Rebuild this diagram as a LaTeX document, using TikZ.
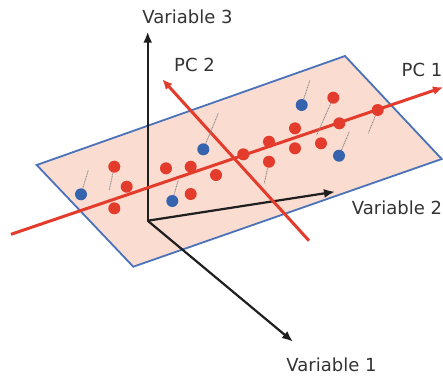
\documentclass[tikz,border=0pt]{standalone}
\usepackage{fontspec}
\setmainfont{DejaVu Sans}
\usetikzlibrary{arrows.meta}
\definecolor{planefill}{HTML}{FADCD1}
\definecolor{planeedge}{HTML}{4A72B8}
\definecolor{pcred}{HTML}{E33B2C}
\definecolor{dotblue}{HTML}{3563AE}
\definecolor{txtgrey}{HTML}{333333}
\tikzset{
  axis/.style={line width=2.2pt, black!88, -{Latex[length=11pt,width=9pt]}},
  pcline/.style={line width=3pt, pcred, -{Latex[length=10pt,width=9pt]}},
  reddot/.style={circle, fill=pcred, inner sep=0pt, minimum size=12pt},
  bluedot/.style={circle, fill=dotblue, inner sep=0pt, minimum size=12pt},
  proj/.style={line width=0.9pt, black!45, dash pattern=on 1pt off 0.7pt},
  lbl/.style={text=txtgrey, font=\fontsize{18}{21}\selectfont, inner sep=0pt}
}
\begin{document}
\begin{tikzpicture}[x=1pt,y=-1pt]
\useasboundingbox (0,0) rectangle (443,376);
% plane
\draw[planeedge, line width=1.8pt, fill=planefill, line join=miter]
  (36.7,165) -- (345,56) -- (441.7,159) -- (133.3,266.7) -- cycle;
% axes
\coordinate (O) at (147.7,220.7);
\coordinate (V3) at (147.7,31.7);
\coordinate (V2) at (335,191.7);
\coordinate (V1) at (293,341.7);
\draw[axis] (O) -- (V3);
\draw[axis] (O) -- (V2);
\draw[axis] (O) -- (V1);
% principal components
\coordinate (P1a) at (11,234.3);
\coordinate (P1b) at (443,87.3);
\coordinate (P2a) at (309,240.7);
\coordinate (P2b) at (162.3,79.3);
\draw[pcline] (P1a) -- (P1b);
\draw[pcline] (P2a) -- (P2b);
% projection end points
\coordinate (e1) at (88.3,170);
\coordinate (e2) at (109.3,190);
\coordinate (e3) at (178.3,180);
\coordinate (e4) at (218.3,113.3);
\coordinate (e5) at (264.3,183.3);
\coordinate (e6) at (310,80);
\coordinate (e7) at (316.7,135);
\coordinate (e8) at (349.3,131.7);
\coordinate (e9) at (368.3,133.3);
% dots
\node[bluedot] (b1) at (81,194.3) {};
\node[bluedot] (b2) at (172.3,201) {};
\node[bluedot] (b3) at (203.3,149.3) {};
\node[bluedot] (b4) at (301.7,105) {};
\node[bluedot] (b5) at (339,155.7) {};
\node[reddot] (r1) at (114.3,166.7) {};
\node[reddot] (r2) at (126.7,186.7) {};
\node[reddot] (r3) at (114.3,208.3) {};
\node[reddot] (r4) at (166,168.3) {};
\node[reddot] (r5) at (190.7,166.7) {};
\node[reddot] (r6) at (216,175) {};
\node[reddot] (r7) at (190.7,194) {};
\node[reddot] (r8) at (243.3,154.3) {};
\node[reddot] (r9) at (269,141.7) {};
\node[reddot] (r10) at (269,161.7) {};
\node[reddot] (r11) at (295,128.3) {};
\node[reddot] (r12) at (295,148.3) {};
\node[reddot] (r13) at (321,143.3) {};
\node[reddot] (r14) at (339.3,123.3) {};
\node[reddot] (r15) at (333.3,97.7) {};
\node[reddot] (r16) at (377.7,110) {};
% projections
\draw[proj] (b1) -- (e1);
\draw[proj] (r1) -- (e2);
\draw[proj] (b2) -- (e3);
\draw[proj] (b3) -- (e4);
\draw[proj] (r10) -- (e5);
\draw[proj] (b4) -- (e6);
\draw[proj] (r15) -- (e7);
\draw[proj] (b5) -- (e8);
\draw[proj] (r16) -- (e9);
% labels
\node[lbl] (l3) at (187.5,16.5) {Variable 3};
\node[lbl] (l2) at (397,208) {Variable 2};
\node[lbl] (l1) at (331.5,365) {Variable 1};
\node[lbl] (lp2) at (194.5,65) {PC 2};
\node[lbl] (lp1) at (422,70) {PC 1};
\end{tikzpicture}
\end{document}
